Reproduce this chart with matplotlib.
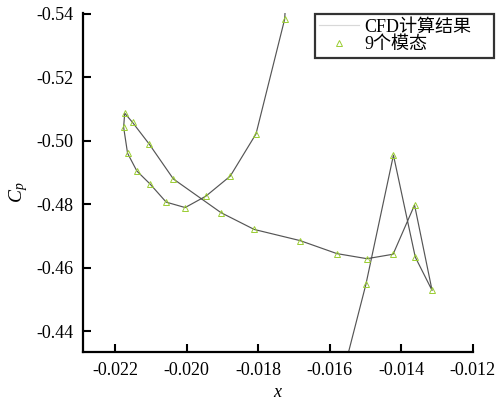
import matplotlib
matplotlib.use("Agg")
import matplotlib.pyplot as plt

# CFD result curve (includes points beyond the visible axes range)
cfd_x = [-0.01560, -0.01499, -0.01422, -0.01361, -0.01314, -0.01363, -0.01423,
         -0.01496, -0.01580, -0.01683, -0.01811, -0.01904, -0.02037, -0.02104,
         -0.02151, -0.02173, -0.02176, -0.02165, -0.02139, -0.02102, -0.02057,
         -0.02004, -0.01946, -0.01878, -0.01806, -0.01726, -0.01722]
cfd_y = [-0.4280, -0.4548, -0.4955, -0.4634, -0.4529, -0.4798, -0.4643,
         -0.4629, -0.4645, -0.4686, -0.4721, -0.4774, -0.4880, -0.4989,
         -0.5058, -0.5087, -0.5043, -0.4961, -0.4905, -0.4864, -0.4807,
         -0.4790, -0.4826, -0.4889, -0.5022, -0.5383, -0.5460]

# 9-mode reconstruction points
mode_x = cfd_x[1:-1]
mode_y = cfd_y[1:-1]

x_ticks = [-0.022, -0.020, -0.018, -0.016, -0.014, -0.012]
y_ticks = [-0.54, -0.52, -0.50, -0.48, -0.46, -0.44]
legend_labels = ["CFD计算结果", "9个模态"]

plt.rcParams['font.family'] = ['Liberation Serif', 'Noto Sans CJK SC']
plt.rcParams['mathtext.fontset'] = 'custom'
plt.rcParams['mathtext.rm'] = 'Liberation Serif'
plt.rcParams['mathtext.it'] = 'Liberation Serif:italic'

fig = plt.figure(figsize=(5.02, 4.01), dpi=100)
ax = fig.add_axes([0.165, 0.122, 0.777, 0.846])

ax.plot(cfd_x, cfd_y, color='#555555', lw=0.85, label=legend_labels[0], zorder=2)
ax.plot(mode_x, mode_y, linestyle='none', marker='^', markersize=4,
        markerfacecolor='none', markeredgecolor='#9acd32', markeredgewidth=0.7,
        label=legend_labels[1], zorder=3)

ax.set_xlim(-0.0229, -0.012)
ax.set_ylim(-0.4335, -0.5403)
ax.set_xticks(x_ticks)
ax.set_xticklabels([f"{v:.3f}" for v in x_ticks])
ax.set_yticks(y_ticks)
ax.set_yticklabels([f"{v:.2f}" for v in y_ticks])

for s in ['top', 'right']:
    ax.spines[s].set_visible(False)
for s in ['left', 'bottom']:
    ax.spines[s].set_linewidth(1.6)
ax.tick_params(direction='in', length=6, width=1.5, labelsize=13, pad=7)

ax.set_xlabel('$x$', fontsize=13, labelpad=4)
ax.set_ylabel('$C_p$', fontsize=14, labelpad=6)
ax.yaxis.set_label_coords(-0.135, 0.47)

leg = ax.legend(loc='upper left', bbox_to_anchor=(0.627, 0.840, 0.357, 0.125),
                bbox_transform=fig.transFigure, mode='expand', borderaxespad=0,
                fancybox=False, frameon=True, fontsize=13, handlelength=2.2,
                handletextpad=0.3, labelspacing=0.05, borderpad=0.25)
leg.get_frame().set_edgecolor('black')
leg.get_frame().set_linewidth(1.6)
leg.get_lines()[0].set_color('#d8d8d8')

fig.savefig('out.png', dpi=100)
